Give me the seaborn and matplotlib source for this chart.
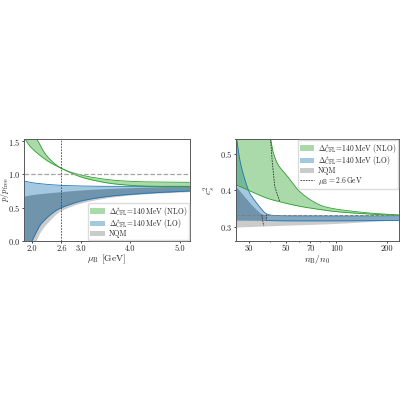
import numpy as np
import matplotlib
matplotlib.use("Agg")
import matplotlib.pyplot as plt
from matplotlib.patches import Patch
from matplotlib.lines import Line2D
import seaborn as sns

sns.set_style("ticks")
plt.rcParams.update({"font.family": "cmr10", "mathtext.fontset": "cm",
                     "axes.formatter.use_mathtext": True, "axes.unicode_minus": False})

GREEN, BLUE, GREY = "#2ca02c", "#1f77b4", "#7f7f7f"

# left panel: pressure ratio
mu_nlo_hi = [1.90, 2.1, 2.3, 2.6, 3.0, 3.5, 4.0, 4.5, 5.2]
p_nlo_hi = [1.78, 1.53, 1.28, 1.09, 0.99, 0.925, 0.895, 0.885, 0.88]
mu_nlo_lo = [1.83, 1.86, 2.0, 2.3, 2.6, 3.0, 3.5, 4.0, 4.5, 5.2]
p_nlo_lo = [1.57, 1.53, 1.39, 1.21, 1.09, 0.96, 0.875, 0.835, 0.82, 0.815]
mu_lo_hi = [1.83, 2.0, 2.3, 2.6, 3.0, 3.5, 4.0, 5.2]
p_lo_hi = [0.90, 0.875, 0.85, 0.835, 0.825, 0.82, 0.82, 0.82]
mu_lo_lo = [2.0, 2.1, 2.2, 2.4, 2.6, 3.0, 3.5, 4.0, 4.5, 5.2]
p_lo_lo = [0.0, 0.15, 0.27, 0.41, 0.5, 0.6, 0.665, 0.70, 0.725, 0.75]
mu_q_hi = [1.83, 2.0, 2.3, 2.6, 3.0, 3.5, 4.0, 5.2]
p_q_hi = [0.67, 0.695, 0.72, 0.74, 0.765, 0.785, 0.80, 0.83]
mu_q_lo = [2.08, 2.2, 2.4, 2.6, 3.0, 3.5, 4.0, 4.5, 5.2]
p_q_lo = [0.0, 0.17, 0.34, 0.46, 0.57, 0.645, 0.69, 0.715, 0.74]

# right panel: speed of sound
n_nlo_hi = [39.5, 40.6, 42, 45, 50.4, 60.8, 76.7, 96.5, 151, 200, 236]
c_nlo_hi = [0.56, 0.54, 0.505, 0.47, 0.442, 0.396, 0.364, 0.35, 0.339, 0.335, 0.333]
n_nlo_lo = [25.1, 30, 38, 46, 60, 76.7, 100, 150, 200, 236]
c_nlo_lo = [0.416, 0.40, 0.38, 0.369, 0.357, 0.349, 0.342, 0.336, 0.333, 0.332]
n_lo_hi = [25.3, 25.5, 27, 30, 33, 35, 38.4, 45, 60, 100, 236]
c_lo_hi = [0.56, 0.54, 0.47, 0.40, 0.37, 0.355, 0.336, 0.331, 0.33, 0.33, 0.33]
n_lo_lo = [25.1, 38, 50, 100, 236]
c_lo_lo = [0.319, 0.318, 0.317, 0.317, 0.318]
n_lo_edge = [38, 50, 100, 236]
c_lo_edge = [0.318, 0.317, 0.317, 0.318]
n_q_hi = [25.1, 27, 30, 33, 36, 40, 60, 100, 236]
c_q_hi = [0.412, 0.395, 0.37, 0.35, 0.336, 0.333, 0.333, 0.332, 0.33]
n_q_lo = [25.1, 50, 100, 236]
c_q_lo = [0.30, 0.305, 0.31, 0.32]
n_mu_nlo = [40.6, 41.5, 43, 46]
c_mu_nlo = [0.54, 0.48, 0.41, 0.37]
n_mu_lo = [38, 38]
c_mu_lo = [0.335, 0.318]
n_mu_q = [36, 36.5, 37]
c_mu_q = [0.333, 0.315, 0.303]

labels = [r"$\Delta^*_{\rm CFL}\!=\!140\,{\rm MeV}$ (NLO)",
          r"$\Delta^*_{\rm CFL}\!=\!140\,{\rm MeV}$ (LO)", "NQM"]
xticks_l = [2.0, 2.6, 3.0, 4.0, 5.0]
xticks_r = [30, 50, 70, 100, 200]


def smooth(x, y, log=False):
    """Catmull-Rom curve through the read points."""
    u = np.log(x) if log else np.array(x, float)
    v = np.array(y, float)
    if len(u) < 3:
        return (np.exp(u) if log else u), v
    pu = np.r_[2*u[0]-u[1], u, 2*u[-1]-u[-2]]
    pv = np.r_[2*v[0]-v[1], v, 2*v[-1]-v[-2]]
    ou, ov = [], []
    t = np.linspace(0, 1, 40, endpoint=False)[:, None]
    for i in range(1, len(pu) - 2):
        P = np.array([[pu[i+k], pv[i+k]] for k in (-1, 0, 1, 2)])
        c = 0.5*((2*P[1]) + (P[2]-P[0])*t + (2*P[0]-5*P[1]+4*P[2]-P[3])*t**2
                 + (3*P[1]-P[0]-3*P[2]+P[3])*t**3)
        ou.append(c[:, 0]); ov.append(c[:, 1])
    ou = np.r_[np.concatenate(ou), u[-1]]
    ov = np.r_[np.concatenate(ov), v[-1]]
    return (np.exp(ou) if log else ou), ov


def on_grid(g, x, y, log, left):
    sx, sy = smooth(x, y, log)
    order = np.argsort(sx)
    return np.interp(g, sx[order], sy[order], left=left)


def edge_line(ax, xx, yy, color, log, lw=0.6):
    sx, sy = smooth(xx, yy, log)
    sns.lineplot(x=sx, y=sy, ax=ax, color=color, lw=lw, legend=False,
                 errorbar=None, sort=False, estimator=None)


def band(ax, x1, y1, x2, y2, color, alpha, log=False, edges=(), low_left=0.0):
    a, b = min(x1 + x2), max(x1 + x2)
    g = np.geomspace(a, b, 3000) if log else np.linspace(a, b, 3000)
    yu = on_grid(g, x1, y1, log, y1[0])
    yl = on_grid(g, x2, y2, log, low_left)
    ax.fill_between(g, yl, yu, color=color, alpha=alpha, lw=0)
    for xx, yy in edges:
        edge_line(ax, xx, yy, color, log)
    return g, yl, yu


def overlap(ax, A, B, g):
    la = np.interp(g, A[0], A[1]); ua = np.interp(g, A[0], A[2])
    lb = np.interp(g, B[0], B[1]); ub = np.interp(g, B[0], B[2])
    lo, hi = np.maximum(la, lb), np.minimum(ua, ub)
    ax.fill_between(g, lo, np.maximum(lo, hi), color="#1f4060", alpha=0.2, lw=0)


fig = plt.figure(figsize=(4, 4), dpi=100)
ax1 = fig.add_axes([23.5/400, 1-241/400, 166/400, 102/400])
ax2 = fig.add_axes([235.5/400, 1-241/400, 163.5/400, 102/400])

Q = band(ax1, mu_q_hi, p_q_hi, mu_q_lo, p_q_lo, GREY, 0.4)
L = band(ax1, mu_lo_hi, p_lo_hi, mu_lo_lo, p_lo_lo, BLUE, 0.4,
         edges=((mu_lo_hi, p_lo_hi), (mu_lo_lo, p_lo_lo)))
overlap(ax1, Q, L, np.linspace(1.83, 5.2, 3000))
band(ax1, mu_nlo_hi, p_nlo_hi, mu_nlo_lo, p_nlo_lo, GREEN, 0.4,
     edges=((mu_nlo_hi, p_nlo_hi), (mu_nlo_lo, p_nlo_lo)))
ax1.axhline(1.0, color="0.65", ls="--", lw=0.9)
ax1.axvline(2.6, color="0.25", ls=(0, (2, 1.5)), lw=0.6)
ax1.set_xlim(1.83, 5.2)
ax1.set_ylim(0, 1.53)
ax1.set_xticks(xticks_l)
ax1.set_xticklabels([f"{t:.1f}" for t in xticks_l])
ax1.set_yticks([0, 0.5, 1.0, 1.5])
ax1.set_xlabel(r"$\mu_{\rm B}$ [GeV]", fontsize=6.8)
ax1.set_ylabel(r"$p/p_{\rm free}$", fontsize=6.2)
ax1.xaxis.set_label_coords(0.5, -0.115)
ax1.yaxis.set_label_coords(-0.076, 0.5)
h = [Patch(color=c, alpha=0.4, lw=0) for c in (GREEN, BLUE, GREY)]
leg_kw = dict(fontsize=5.45, frameon=True, framealpha=0.92, edgecolor="0.85", borderaxespad=0.1,
              labelspacing=-0.05, handlelength=1.9, handletextpad=0.5, borderpad=0.25)
ax1.legend(h, labels, loc="lower right", **leg_kw)

Q2 = band(ax2, n_q_hi, c_q_hi, n_q_lo, c_q_lo, GREY, 0.4, log=True, low_left=0.3)
L2 = band(ax2, n_lo_hi, c_lo_hi, n_lo_lo, c_lo_lo, BLUE, 0.4, log=True, low_left=0.319,
          edges=((n_lo_hi, c_lo_hi), (n_lo_edge, c_lo_edge)))
overlap(ax2, Q2, L2, np.geomspace(25.1, 38, 800))
band(ax2, n_nlo_hi, c_nlo_hi, n_nlo_lo, c_nlo_lo, GREEN, 0.4, log=True, low_left=0.416,
     edges=((n_nlo_hi, c_nlo_hi), (n_nlo_lo, c_nlo_lo)))
ax2.axhline(1/3, color="0.5", ls="--", lw=0.7)
for nx, cx in ((n_mu_nlo, c_mu_nlo), (n_mu_lo, c_mu_lo), (n_mu_q, c_mu_q)):
    ax2.plot(nx, cx, color="0.2", ls=(0, (2, 1.2)), lw=0.6)
ax2.set_xscale("log")
ax2.set_xlim(25.1, 236)
ax2.set_ylim(0.262, 0.54)
ax2.set_xticks(xticks_r)
ax2.set_xticklabels([str(t) for t in xticks_r])
ax2.set_yticks([0.3, 0.4, 0.5])
ax2.set_xlabel(r"$n_{\rm B}/n_0$", fontsize=6.8)
ax2.set_ylabel(r"$c_s^2$", fontsize=6.8)
ax2.xaxis.set_label_coords(0.5, -0.115)
ax2.yaxis.set_label_coords(-0.113, 0.5)
h2 = h + [Line2D([], [], color="0.2", ls=(0, (2, 1.2)), lw=0.6)]
ax2.legend(h2, labels + [r"$\mu_{\rm B}=2.6\,{\rm GeV}$"], loc="upper right", **leg_kw)

for ax in (ax1, ax2):
    ax.tick_params(labelsize=6, length=1.6, width=0.6, pad=1, which="major")
    ax.tick_params(which="minor", length=1.0, width=0.5, labelbottom=False)
    for s in ax.spines.values():
        s.set_linewidth(0.7)
        s.set_color("0.35")

fig.savefig("out.png", dpi=100)
